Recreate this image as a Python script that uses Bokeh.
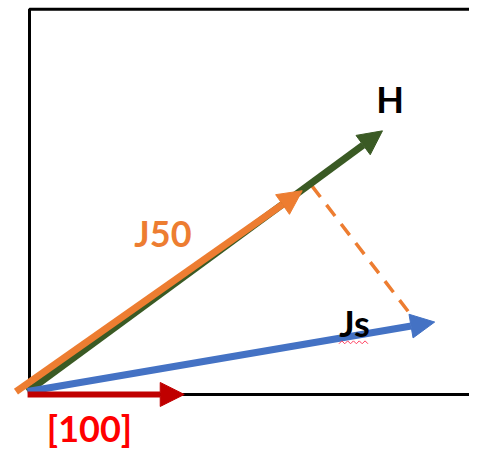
from bokeh.plotting import figure
from bokeh.models import Range1d, Arrow, NormalHead, BoxAnnotation, ColumnDataSource, LabelSet
from bokeh.core.properties import value
from bokeh.embed import file_html
from bokeh.resources import INLINE

# Vectors (start / end, in drawing units, origin at the box corner)
vec_names = ["H", "J50", "Js", "[100]"]
vec_x0 = [0, -12, 0, 0]
vec_y0 = [0, 0, 0, -3]
vec_x1 = [367, 284, 421, 162]
vec_y1 = [270, 208, 72, -3]
vec_colors = ["#3A5A24", "#ED7D31", "#4472C4", "#C00000"]

# Dashed projection from J50 tip to Js
proj_x = [294, 402]
proj_y = [213, 72]

# Labels
label_text = ["H", "J50", "Js", "[100]"]
label_x = [375, 140, 338, 64]
label_y = [288, 150, 57, -52]
label_colors = ["#000000", "#ED7D31", "#000000", "#FF0000"]

p = figure(width=469, height=449, output_backend="svg", toolbar_location=None,
           x_range=Range1d(-28, 457), y_range=Range1d(-60, 405), min_border=0)
p.axis.visible = False
p.grid.visible = False
p.outline_line_color = None
p.background_fill_color = "white"

box = BoxAnnotation(left=2, right=480, bottom=-3, top=396, fill_alpha=0,
                    line_color="black", line_alpha=1, line_width=3)
p.add_layout(box)

p.line(proj_x, proj_y, line_color="#ED7D31", line_width=3.5, line_dash="14 10")

for name, x0, y0, x1, y1, c in zip(vec_names, vec_x0, vec_y0, vec_x1, vec_y1, vec_colors):
    w = 6 if name == "[100]" else 7
    head = NormalHead(size=24, fill_color=c, line_color=c, line_width=1)
    p.add_layout(Arrow(end=head, x_start=x0, y_start=y0, x_end=x1, y_end=y1,
                       line_color=c, line_width=w))

src = ColumnDataSource(dict(x=label_x, y=label_y, t=label_text, c=label_colors))
labels = LabelSet(x="x", y="y", text="t", text_color="c", source=src,
                  text_font=value("Lato"), text_font_style="bold", text_font_size="36px",
                  text_align="center", text_baseline="alphabetic")
p.add_layout(labels)

# spell-check squiggle under "Js"
sq_x = [322 + 3 * i for i in range(11)]
sq_y = [51 + (1.5 if i % 2 else -1.5) for i in range(11)]
r = p.line(sq_x, sq_y, line_color="#FF4060", line_width=1)
r.level = "overlay"

open("out.html", "w").write(file_html(p, INLINE))
